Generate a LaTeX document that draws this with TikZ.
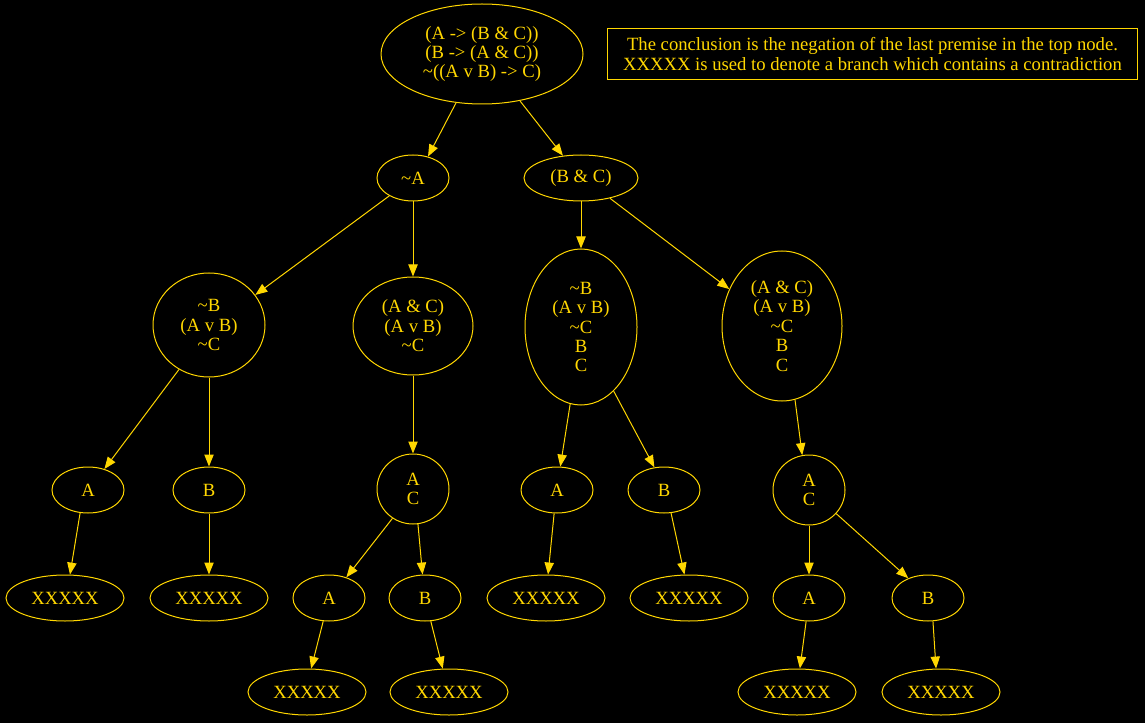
\documentclass[tikz,border=0pt]{standalone}
\usepackage{fontspec}
\setmainfont{Liberation Serif}
\usetikzlibrary{shapes.geometric,arrows.meta}
\definecolor{gold}{HTML}{FFD700}
\tikzset{
  el/.style={ellipse, draw=gold, text=gold, line width=0.75pt, inner sep=0pt, align=center,
    font=\fontsize{14}{14.6}\selectfont},
  sm/.style={el, minimum width=54pt, minimum height=34.5pt},
  cc/.style={el, minimum width=54pt, minimum height=52.5pt},
  xx/.style={el, minimum width=88.5pt, minimum height=34.5pt},
  ed/.style={draw=gold, line width=0.75pt, -{Triangle[length=9pt,width=7pt]}, shorten >=0pt},
}
\begin{document}
\begin{tikzpicture}[x=0.75pt,y=-0.75pt]
\fill[black] (0,0) rectangle (1145,723);
\useasboundingbox (0,0) rectangle (1145,723);
% nodes
\node[el, minimum width=151.5pt, minimum height=75pt] (top) at (482,54) {(A -> (B \& C))\\(B -> (A \& C))\\\textasciitilde((A v B) -> C)};
\node[draw=gold, text=gold, line width=0.75pt, minimum width=398pt, minimum height=38pt, inner sep=0pt, align=center, font=\fontsize{14}{14.6}\selectfont] (note) at (872.5,54) {The conclusion is the negation of the last premise in the top node.\\XXXXX is used to denote a branch which contains a contradiction};
\node[sm] (nA) at (413,178) {\textasciitilde A};
\node[el, minimum width=85.5pt, minimum height=34.5pt] (BC) at (581,178) {(B \& C)};
\node[el, minimum width=84pt, minimum height=78pt] (L3) at (209,325) {\textasciitilde B\\(A v B)\\\textasciitilde C};
\node[el, minimum width=90pt, minimum height=73.5pt] (AC3) at (413,326) {(A \& C)\\(A v B)\\\textasciitilde C};
\node[el, minimum width=84pt, minimum height=117pt] (B5) at (581,327) {\textasciitilde B\\(A v B)\\\textasciitilde C\\B\\C};
\node[el, minimum width=90pt, minimum height=112.5pt] (AC5) at (782,326) {(A \& C)\\(A v B)\\\textasciitilde C\\B\\C};
\node[sm] (A1) at (88,490) {A};
\node[sm] (B1) at (209,490) {B};
\node[cc] (C1) at (413,489) {A\\C};
\node[sm] (A2) at (557,490) {A};
\node[sm] (B2) at (664,490) {B};
\node[cc] (C2) at (809,490) {A\\C};
\node[xx] (X1) at (65,598) {XXXXX};
\node[xx] (X2) at (209,598) {XXXXX};
\node[sm] (A3) at (329,598) {A};
\node[sm] (B3) at (425,598) {B};
\node[xx] (X5) at (546,598) {XXXXX};
\node[xx] (X6) at (689,598) {XXXXX};
\node[sm] (A4) at (809,598) {A};
\node[sm] (B4) at (928,598) {B};
\node[xx] (X7) at (307,692) {XXXXX};
\node[xx] (X8) at (449,692) {XXXXX};
\node[xx] (X9) at (797,692) {XXXXX};
\node[xx] (X10) at (941,692) {XXXXX};
% edges
\draw[ed] (top.-118.9) -- (nA.55.7);
\draw[ed] (top.-51.6) -- (BC.129.3);
\draw[ed] (nA.-143.1) -- (L3.33.1);
\draw[ed] (nA.south) -- (AC3.north);
\draw[ed] (BC.south) -- (B5.north);
\draw[ed] (BC.-35.5) -- (AC5.145.3);
\draw[ed] (L3.-124.6) -- (A1.52);
\draw[ed] (L3.south) -- (B1.north);
\draw[ed] (AC3.south) -- (C1.north);
\draw[ed] (B5.-98.7) -- (A2.82.9);
\draw[ed] (B5.-63.1) -- (B2.113.5);
\draw[ed] (AC5.-80.5) -- (C2.101.3);
\draw[ed] (C1.-125.9) -- (A3.50.7);
\draw[ed] (C1.-82) -- (B3.96.8);
\draw[ed] (A2.-97.4) -- (X5.85);
\draw[ed] (B2.-73) -- (X6.101);
\draw[ed] (C2.south) -- (A4.north);
\draw[ed] (C2.-41.6) -- (B4.135);
\draw[ed] (A3.-104) -- (X7.80);
\draw[ed] (B3.-76) -- (X8.105);
\draw[ed] (A4.-97) -- (X9.83);
\draw[ed] (B4.-78) -- (X10.102);
\draw[ed] (A1.-109) -- (X1.78);
\draw[ed] (B1.south) -- (X2.north);
\end{tikzpicture}
\end{document}
